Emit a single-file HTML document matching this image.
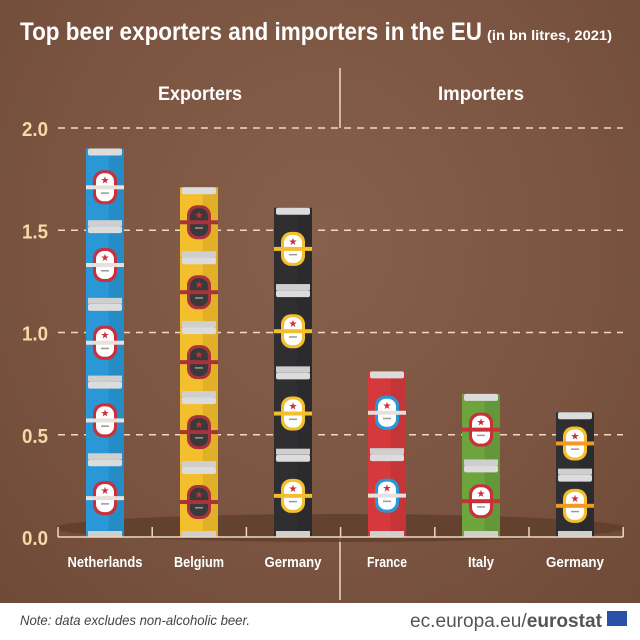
<!DOCTYPE html>
<html><head><meta charset="utf-8">
<style>
body{margin:0;width:640px;height:640px;overflow:hidden;font-family:"Liberation Sans",sans-serif;}
#bg{position:absolute;left:0;top:0;width:640px;height:603px;background:radial-gradient(ellipse at 50% 40%,#86604a 0%,#7a5440 60%,#6e4a37 100%);}
#foot{position:absolute;left:0;top:603px;width:640px;height:37px;background:#fff;}
</style></head>
<body>
<div id="bg"></div>
<div id="foot"></div>
<svg id="chart" width="640" height="640" style="position:absolute;left:0;top:0">
<text x="20" y="40" fill="#fff" font-size="25" font-weight="bold" textLength="462" lengthAdjust="spacingAndGlyphs">Top beer exporters and importers in the EU</text>
<text x="487" y="40" fill="#fff" font-size="14" font-weight="bold" textLength="125" lengthAdjust="spacingAndGlyphs">(in bn litres, 2021)</text>
<text x="158" y="100" fill="#fff" font-size="19" font-weight="bold" textLength="84" lengthAdjust="spacingAndGlyphs">Exporters</text>
<text x="438" y="100" fill="#fff" font-size="19" font-weight="bold" textLength="86" lengthAdjust="spacingAndGlyphs">Importers</text>
<line x1="340" y1="68" x2="340" y2="128" stroke="#f0d9c0" stroke-width="1.5"/>
<line x1="340" y1="537" x2="340" y2="600" stroke="#f0d9c0" stroke-width="1.5"/>
<ellipse cx="340" cy="528" rx="285" ry="14" fill="#5e3d2c" opacity="0.8"/>
<g id="grid"></g><g id="bars"></g><g id="axis"></g>
<text x="20" y="625" fill="#444" font-size="14" font-style="italic" textLength="230" lengthAdjust="spacingAndGlyphs">Note: data excludes non-alcoholic beer.</text>
<text x="410" y="627" fill="#555" font-size="19" textLength="192" lengthAdjust="spacingAndGlyphs">ec.europa.eu/<tspan font-weight="bold">eurostat</tspan></text>
<rect x="607" y="611" width="20" height="15" fill="#2b50a8"/>
</svg>
<script>
const categories=["Netherlands","Belgium","Germany","France","Italy","Germany"];
const values=[1.90,1.71,1.61,0.81,0.70,0.61];
const tickValues=[0,0.5,1.0,1.5,2.0];
const tickLabels=["0.0","0.5","1.0","1.5","2.0"];
const body=["#2a98d6","#f4bf2c","#2f2f31","#d6393b","#6da43e","#2f2f31"];
const badge=["#c8303a","#a8333a","#f4bf2c","#2a98d6","#c8303a","#f4bf2c"];
const band=["#e8e0dc","#a8333a","#f4bf2c","#e8e0dc","#c8303a","#f09a20"];
const labelW=[75,50,57,40,26,58];
const y=v=>537-v*204.5;
const xc=i=>105+i*94;
const NS="http://www.w3.org/2000/svg";
function mk(t,a,p){const e=document.createElementNS(NS,t);for(const k in a)e.setAttribute(k,a[k]);p.appendChild(e);return e;}
const grid=document.getElementById('grid'),bars=document.getElementById('bars'),axis=document.getElementById('axis');
tickValues.forEach((v,i)=>{
  if(v>0){const l=mk('line',{x1:58,x2:623,y1:y(v),y2:y(v),stroke:'#f0d9c0','stroke-width':1.5,'stroke-dasharray':'7,6'},grid);
  
  }
  const t=mk('text',{x:22,y:y(v)+8,fill:'#f6d9a6','font-size':20,'font-weight':'bold',textLength:26,lengthAdjust:'spacingAndGlyphs'},axis);
  t.textContent=tickLabels[i];
  
  
});
const ax=mk('line',{x1:58,x2:623,y1:537,y2:537,stroke:'#f0d9c0','stroke-width':1.5},axis);


for(let i=0;i<=6;i++){const tk=mk('line',{x1:58+i*94.2,x2:58+i*94.2,y1:527,y2:537,stroke:'#f0d9c0','stroke-width':1.5},axis);

}
categories.forEach((c,i)=>{
  const g=mk('g',{},bars);
  
  
  const top=y(values[i]),bot=537,x=xc(i),w=38;
  const n=Math.max(1,Math.round(values[i]/0.38));
  const h=(bot-top)/n;
  for(let k=0;k<n;k++){
    const t0=top+k*h;
    mk('rect',{x:x-w/2,y:t0,width:w,height:h,fill:body[i]},g);
    mk('rect',{x:x-w/2+w*0.6,y:t0,width:w*0.4,height:h,fill:'#000',opacity:0.08},g);
    mk('rect',{x:x-w/2+2,y:t0,width:w-4,height:7,fill:'#dcdcdc',rx:2},g);
    mk('rect',{x:x-w/2+2,y:t0+h-6,width:w-4,height:6,fill:'#cfcfcf'},g);
    const cy=t0+h/2;
    mk('rect',{x:x-12,y:cy-17,width:24,height:34,rx:10,fill:badge[i]},g);
    mk('rect',{x:x-9,y:cy-14,width:18,height:28,rx:8,fill:(i==1?'#3a3a3a':'#fff')},g);
    mk('rect',{x:x-w/2,y:cy-2,width:w,height:4,fill:band[i]},g);
    mk('text',{x:x,y:cy-4,'font-size':10,fill:'#c8303a','text-anchor':'middle'},g).textContent='★';
    mk('rect',{x:x-4,y:cy+5,width:8,height:1.5,fill:'#999'},g);
  }
  const lt=mk('text',{x:x-labelW[i]/2,y:567,fill:'#fff','font-size':15,'font-weight':'bold',textLength:labelW[i],lengthAdjust:'spacingAndGlyphs'},g);
  lt.textContent=c;
  
  
});
</script>
</body></html>
